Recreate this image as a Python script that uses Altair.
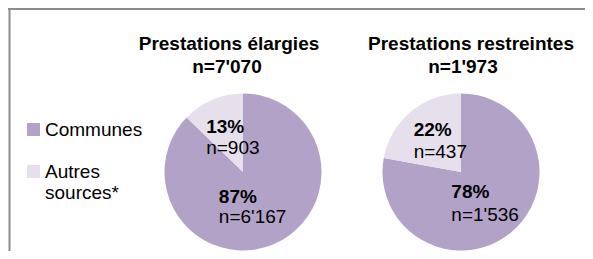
import altair as alt
import pandas as pd

# ---- data ----
groups = ["Prestations élargies", "Prestations restreintes"]
group_n = ["n=7'070", "n=1'973"]
categories = ["Communes", "Autres sources*"]
counts_elargies = [6167, 903]
counts_restreintes = [1536, 437]
pct_elargies = ["87%", "13%"]
pct_restreintes = ["78%", "22%"]
nlab_elargies = ["n=6'167", "n=903"]
nlab_restreintes = ["n=1'536", "n=437"]
colors = ["#b3a2c7", "#e6e0ec"]

rows = []
for g, gn, counts, pcts, nls in [
    (groups[0], group_n[0], counts_elargies, pct_elargies, nlab_elargies),
    (groups[1], group_n[1], counts_restreintes, pct_restreintes, nlab_restreintes),
]:
    for i, c in enumerate(categories):
        rows.append(dict(group=g, gn=gn, cat=c, order=i, count=counts[i],
                         pct=pcts[i], nlab=nls[i]))
df = pd.DataFrame(rows)

W, H = 577, 243
FONT = "Liberation Sans, Arial, sans-serif"
PIE_Y = 164
R = 78.5

x_enc = alt.X("group:N", scale=alt.Scale(type="point", domain=groups,
                                          range=[235, 453], padding=0), axis=None)
theta_scale = alt.Scale(domain=[0, 1], range=[0, 6.283185307179586])

base = alt.Chart(df).transform_joinaggregate(
    total="sum(count)", groupby=["group"]
).transform_calculate(
    frac="datum.count / datum.total"
).transform_window(
    end="sum(frac)", sort=[alt.SortField("order")], groupby=["group"],
    frame=[None, 0]
).transform_calculate(
    start="datum.end - datum.frac",
    mid="datum.end - datum.frac / 2"
)

pies = base.mark_arc(outerRadius=R, innerRadius=0, strokeWidth=0).encode(
    x=x_enc,
    y=alt.value(PIE_Y),
    theta=alt.Theta("start:Q", scale=theta_scale),
    theta2="end:Q",
    color=alt.Color(
        "cat:N",
        scale=alt.Scale(domain=categories, range=colors),
        legend=alt.Legend(
            title=None, orient="none", legendX=16, legendY=112,
            symbolType="square", symbolSize=170, symbolStrokeWidth=0,
            labelFontSize=19, labelFont=FONT, labelColor="#000000",
            labelOffset=2, labelLimit=0, rowPadding=22,
            labelExpr="datum.label == 'Autres sources*' ? ['Autres', 'sources*'] : datum.label",
        ),
    ),
)

layers = [pies]

# slice labels: (group, category) -> (dx, dy percent line, dy n line)
offsets = {
    (groups[0], categories[0]): (-39, -10, 10.5),
    (groups[0], categories[1]): (-22, -10.5, 11),
    (groups[1], categories[0]): (-34, -9, 13.5),
    (groups[1], categories[1]): (-23, -13, 9),
}
for (g, c), (dx, dy1, dy2) in offsets.items():
    sub = base.transform_filter(
        (alt.datum.group == g) & (alt.datum.cat == c)
    )
    for field, dy, weight in [("pct", dy1, "bold"), ("nlab", dy2, "normal")]:
        layers.append(
            sub.mark_text(align="left", baseline="middle", radius=38, dx=dx, dy=dy,
                          fontSize=19, font=FONT, fontWeight=weight,
                          color="#000000").encode(
                x=x_enc,
                y=alt.value(PIE_Y),
                theta=alt.Theta("mid:Q", scale=theta_scale),
                text=f"{field}:N",
            )
        )

# titles above each pie
title_dx = {groups[0]: (-14, -16), groups[1]: (10, 2)}
for g, (dx1, dx2) in title_dx.items():
    sub = base.transform_filter((alt.datum.group == g) & (alt.datum.order == 0))
    layers.append(sub.mark_text(align="center", baseline="middle", dx=dx1,
                                fontSize=19, font=FONT, fontWeight="bold",
                                color="#000000").encode(
        x=x_enc, y=alt.value(36), text="group:N"))
    layers.append(sub.mark_text(align="center", baseline="middle", dx=dx2,
                                fontSize=19, font=FONT, fontWeight="bold",
                                color="#000000").encode(
        x=x_enc, y=alt.value(59), text="gn:N"))

# chart-area frame (top and left edges visible in the reference)
frame_src = alt.Chart(alt.Data(values=[{"f": 1}]))
layers.append(frame_src.mark_rule(color="#8c8c8c", strokeWidth=2).encode(
    x=alt.value(0), x2=alt.value(W + 10), y=alt.value(1)))
layers.append(frame_src.mark_rule(color="#8c8c8c", strokeWidth=2).encode(
    x=alt.value(1.5), y=alt.value(0), y2=alt.value(H + 20)))

chart = alt.layer(*layers).properties(
    width=W, height=H, padding=0,
    autosize=alt.AutoSizeParams(type="none"),
    background="white",
).configure_view(stroke=None)

chart.save("out.html", embed_options={"renderer": "svg", "actions": False})
